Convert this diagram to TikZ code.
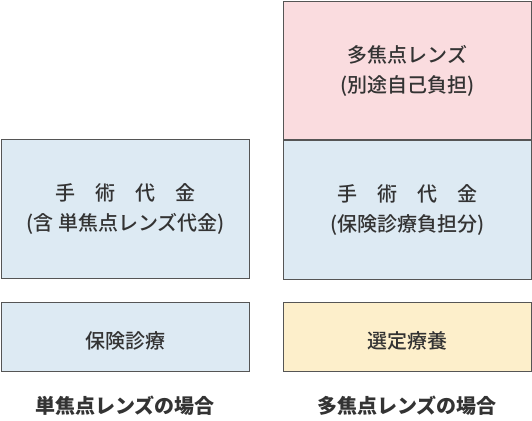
\documentclass[tikz,border=0pt]{standalone}
\usepackage{fontspec}
\setmainfont{Noto Sans CJK JP}
\newfontfamily\boxfont{Noto Sans CJK JP Medium}
\usepackage{xcolor}
\usepackage{tikz}
\usetikzlibrary{positioning}

\definecolor{boxblue}{HTML}{DDEAF3}
\definecolor{boxpink}{HTML}{FADCDF}
\definecolor{boxyellow}{HTML}{FDEFCB}
\definecolor{edgegray}{HTML}{555555}
\definecolor{inkgray}{HTML}{333333}

\begin{document}
\begin{tikzpicture}[x=1pt,y=-1pt,
  costbox/.style={draw=edgegray,line width=1.2pt,minimum width=248pt,inner sep=0pt,
    align=center,text=inkgray,font=\boxfont\fontsize{20}{30}\selectfont,
    execute at begin node=\rule{0pt}{24pt}},
  casetitle/.style={font=\bfseries\fontsize{20}{24}\selectfont,text=inkgray}]
  \useasboundingbox (0,0) rectangle (532,420);
  % single focus lens
  \node[costbox,fill=boxblue,minimum height=139pt,anchor=north west] (singleop) at (1,139)
    {手　術　代　金\\(含 単焦点レンズ代金)};
  \node[costbox,fill=boxblue,minimum height=69pt,anchor=north west] (singleins) at (1,302) {保険診療};
  % multi focus lens
  \node[costbox,fill=boxpink,minimum height=138pt,anchor=north west] (multilens) at (283,1)
    {多焦点レンズ\\(別途自己負担)};
  \node[costbox,fill=boxblue,minimum height=139pt,below=0pt of multilens] (multiop)
    {手　術　代　金\\(保険診療負担分)};
  \node[costbox,fill=boxyellow,minimum height=69pt,anchor=north west] (multiins) at (283,302) {選定療養};
  % captions
  \node[casetitle] (singlecap) at (125,406) {単焦点レンズの場合};
  \node[casetitle] (multicap) at (407,406) {多焦点レンズの場合};
\end{tikzpicture}
\end{document}
